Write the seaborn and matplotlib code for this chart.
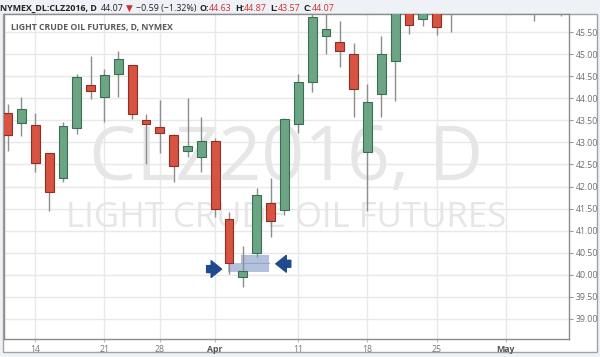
import matplotlib
matplotlib.use("Agg")
import matplotlib.pyplot as plt
import seaborn as sns
import numpy as np
import pandas as pd
from matplotlib.patches import Rectangle

# ---------------- data ----------------
dates = ["2016-03-10", "2016-03-11",
         "2016-03-14", "2016-03-15", "2016-03-16", "2016-03-17", "2016-03-18",
         "2016-03-21", "2016-03-22", "2016-03-23", "2016-03-24",
         "2016-03-28", "2016-03-29", "2016-03-30", "2016-03-31", "2016-04-01",
         "2016-04-04", "2016-04-05", "2016-04-06", "2016-04-07", "2016-04-08",
         "2016-04-11", "2016-04-12", "2016-04-13", "2016-04-14", "2016-04-15",
         "2016-04-18", "2016-04-19", "2016-04-20", "2016-04-21", "2016-04-22",
         "2016-04-25", "2016-04-26", "2016-04-27", "2016-04-28", "2016-04-29",
         "2016-05-02", "2016-05-03", "2016-05-04", "2016-05-05", "2016-05-06"]
opens = [43.67, 43.43,
         43.39, 42.75, 42.19, 43.32, 44.30,
         44.03, 44.55, 44.75, 43.51,
         43.34, 43.17, 42.81, 42.66, 43.02,
         41.27, 39.94, 40.49, 41.62, 41.47,
         43.41, 44.36, 45.42, 45.27, 45.00,
         42.78, 44.09, 44.85, 46.20, 45.79,
         46.10, 46.10, 46.60, 47.20, 47.80,
         48.00, 46.90, 46.20, 46.40, 47.00]
highs = [43.86, 44.02,
         43.66, 42.76, 43.47, 44.56, 44.96,
         44.66, 45.07, 44.75, 43.64,
         43.96, 43.19, 44.00, 43.58, 43.09,
         41.42, 40.65, 41.96, 42.19, 43.55,
         44.55, 46.10, 46.05, 45.76, 45.26,
         44.32, 45.41, 46.40, 46.50, 46.30,
         46.30, 46.60, 47.20, 47.80, 48.40,
         48.30, 47.00, 46.60, 47.30, 47.60]
lows = [42.81, 43.15,
        42.34, 41.45, 42.11, 43.18, 43.98,
        43.47, 44.02, 43.53, 42.51,
        42.75, 42.11, 42.68, 42.34, 41.30,
        40.02, 39.72, 40.40, 40.86, 41.36,
        43.21, 44.13, 45.00, 44.71, 43.57,
        41.45, 43.57, 43.94, 45.45, 45.64,
        45.44, 45.51, 46.20, 46.80, 47.30,
        46.80, 46.00, 45.74, 46.10, 45.87]
closes = [43.16, 43.75,
          42.53, 41.88, 43.36, 44.49, 44.17,
          44.53, 44.89, 43.64, 43.41,
          43.21, 42.47, 42.92, 43.02, 41.48,
          40.26, 40.08, 41.80, 41.21, 43.52,
          44.36, 45.83, 45.56, 45.07, 44.20,
          43.91, 45.01, 46.10, 45.65, 46.10,
          45.62, 46.40, 47.00, 47.60, 48.10,
          47.00, 46.20, 46.30, 47.00, 47.40]
tick_dates = ["2016-03-14", "2016-03-21", "2016-03-28", "2016-04-01",
              "2016-04-11", "2016-04-18", "2016-04-25", "2016-05-02"]
tick_labels = ["14", "21", "28", "Apr", "11", "18", "25", "May"]
y_ticks = [39.0, 39.5, 40.0, 40.5, 41.0, 41.5, 42.0, 42.5, 43.0, 43.5,
           44.0, 44.5, 45.0, 45.5]

# ---------------- style ----------------
sns.set_style("white")
plt.rcParams['font.family'] = ['Open Sans', 'DejaVu Sans']

df = pd.DataFrame({"date": dates, "open": opens, "high": highs,
                   "low": lows, "close": closes})
df["x"] = np.arange(len(df))
up = df["close"] >= df["open"]

W, H = 600, 357
fig = plt.figure(figsize=(W / 100, H / 100), dpi=100, facecolor="#eef1f5")

# white panel with outer frame (drawn beneath the axes)
fig.patches.append(Rectangle((3 / W, (H - 352) / H), 594 / W, 338 / H,
                             transform=fig.transFigure, facecolor="white",
                             edgecolor="#a3a3a3", lw=1, zorder=-5))

ax = fig.add_axes([4 / W, (H - 339) / H, 565 / W, 325 / H])
ax.set_zorder(3)
ax.set_facecolor("white")

# highlight box (behind candles)
hl = "#a7b7d6"
ax.add_patch(Rectangle((15.93, 40.07), 18.9 - 15.93, 40.26 - 40.07,
                       facecolor=hl, edgecolor="none", alpha=0.85, zorder=2))
ax.add_patch(Rectangle((16.87, 40.26), 18.9 - 16.87, 40.45 - 40.26,
                       facecolor=hl, edgecolor="none", alpha=0.85, zorder=2))
ax.plot([16.87, 18.9], [40.26, 40.26], color="#94a6c9", lw=0.8, zorder=2)

# candles
ax.vlines(df["x"], df["low"], df["high"], color="#8e8e8e", lw=1, zorder=3)
g = df[up]
r = df[~up]
ax.bar(g["x"], g["close"] - g["open"], bottom=g["open"], width=0.64,
       color="#6ba583", edgecolor="#3b6f51", lw=0.8, zorder=4)
ax.bar(r["x"], r["open"] - r["close"], bottom=r["close"], width=0.64,
       color="#d75442", edgecolor="#8e2f22", lw=0.8, zorder=4)

ax.set_xlim(-0.26, 40.56)
ax.set_ylim(38.546, 45.908)

# ticks
xt = [dates.index(d) for d in tick_dates]
ax.set_xticks(xt)
ax.set_xticklabels(tick_labels)
ax.set_yticks(y_ticks)
ax.set_yticklabels([f"{v:.2f}" for v in y_ticks])
ax.yaxis.tick_right()
ax.tick_params(axis="y", length=3, width=0.8, color="#999999", pad=2,
               labelsize=6.3, labelcolor="#6f6f6f", right=True, left=False)
ax.tick_params(axis="x", length=2, width=0.8, color="#bbbbbb", pad=2,
               labelsize=6.3, labelcolor="#777777", bottom=True)
for lbl in ax.get_xticklabels():
    if lbl.get_text() in ("Apr", "May"):
        lbl.set_fontweight("bold")
        lbl.set_color("#555555")

ax.grid(True, color="#e8e8e8", lw=1, zorder=0)
ax.set_axisbelow(True)
for s in ax.spines.values():
    s.set_color("#8c8c8c")
    s.set_linewidth(1)

# watermark
ax.text(0.5, 0.489, "CLZ2016, D", transform=ax.transAxes, ha="center",
        va="baseline", fontsize=54, color="#e6e6e6", zorder=1)
ax.text(0.5, 0.3455, "LIGHT CRUDE OIL FUTURES", transform=ax.transAxes,
        ha="center", va="baseline", fontsize=25, color="#e6e6e6", zorder=1)

# inner title
ax.text(0.0124, 0.952, "LIGHT CRUDE OIL FUTURES, D, NYMEX",
        transform=ax.transAxes, ha="left", va="baseline", fontsize=6.3,
        fontweight="bold", color="#5a5a5a", zorder=5)

arrow_col = "#1f4b8c"
astyle = "simple,head_length=0.75,head_width=1.2,tail_width=0.5"
ax.annotate("", xy=(15.46, 40.13), xytext=(14.38, 40.13),
            arrowprops=dict(arrowstyle=astyle, color=arrow_col,
                            mutation_scale=10, shrinkA=0, shrinkB=0), zorder=6)
ax.annotate("", xy=(19.38, 40.25), xytext=(20.46, 40.25),
            arrowprops=dict(arrowstyle=astyle, color=arrow_col,
                            mutation_scale=10, shrinkA=0, shrinkB=0), zorder=6)

# header line
fig.canvas.draw()
renderer = fig.canvas.get_renderer()
red = "#d0312d"
dark = "#222222"
pieces = [("NYMEX_DL:CLZ2016, D", "bold", dark, 3),
          ("44.07", "normal", dark, 3),
          ("▼", "normal", red, 3),
          ("−0.59 (−1.32%)", "normal", dark, 3),
          ("O:", "bold", dark, 0),
          ("44.63", "normal", red, 3),
          ("H:", "bold", dark, 0),
          ("44.87", "normal", red, 3),
          ("L:", "bold", dark, 0),
          ("43.57", "normal", red, 3),
          ("C:", "bold", dark, 0),
          ("44.07", "normal", red, 0)]
xpix = 0.5
for txt, wt, col, gap in pieces:
    t = fig.text(xpix / W, (H - 10.8) / H, txt, fontsize=6.4, fontweight=wt,
                 color=col, ha="left", va="baseline")
    bb = t.get_window_extent(renderer)
    xpix = bb.x1 + gap

fig.savefig("out.png", dpi=100, facecolor=fig.get_facecolor())
